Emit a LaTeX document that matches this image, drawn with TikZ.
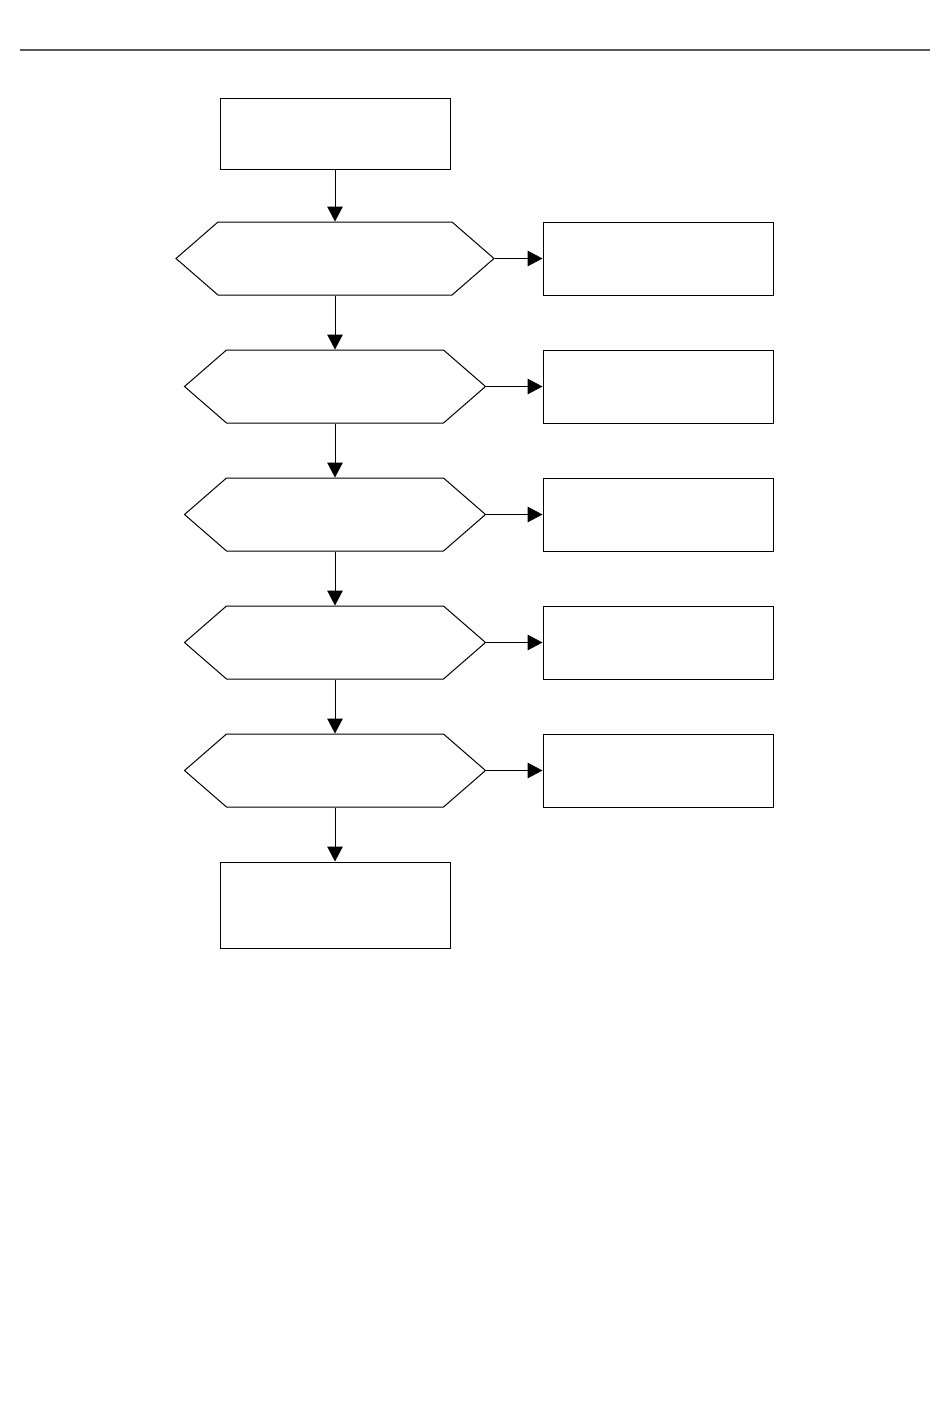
\documentclass[tikz,border=0pt]{standalone}
\usetikzlibrary{arrows.meta, positioning, shapes.symbols}
\begin{document}
\begin{tikzpicture}[x=0.5pt, y=-0.5pt,
    box/.style={rectangle, draw, line width=0.5pt, minimum width=115pt, minimum height=35.5pt, inner sep=0pt},
    hexa/.style={signal, signal to=east and west, signal pointer angle=82, draw, line width=0.5pt, minimum width=150.5pt, minimum height=36.5pt, inner sep=0pt},
    arr/.style={-{Triangle[length=7.5pt, width=7.8pt]}, line width=0.5pt}]
    \useasboundingbox (0,0) rectangle (950,1425);
    % page rule
    \draw[line width=0.75pt, black!65] (20,50) -- (930,50);

    \node[box] (start) at (335,133.5) {};
    \node[hexa, minimum width=159pt] (q1) at (335,258.5) {};
    \foreach \i in {2,...,5}
        \node[hexa] (q\i) at (335,{258.5+128*(\i-1)}) {};
    \foreach \i in {1,...,5}
        \node[box, minimum height=36.5pt] (r\i) at (658,{258.5+128*(\i-1)}) {};
    \node[box, minimum height=43pt] (stop) at (335,905) {};

    \draw[arr] (start) -- (q1);
    \foreach \i/\j in {1/2, 2/3, 3/4, 4/5}
        \draw[arr] (q\i) -- (q\j);
    \draw[arr] (q5) -- (stop);
    \foreach \i in {1,...,5}
        \draw[arr] (q\i.east) -- (r\i.west);
\end{tikzpicture}
\end{document}
